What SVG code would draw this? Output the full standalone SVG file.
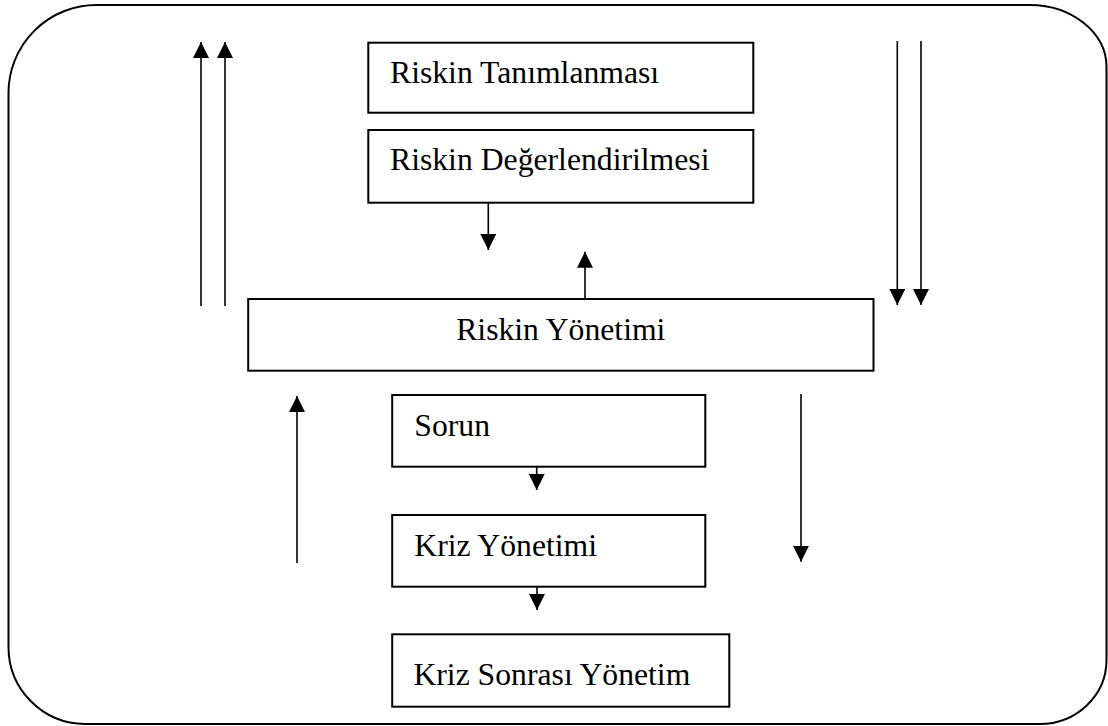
<svg xmlns="http://www.w3.org/2000/svg" width="1108" height="726" viewBox="0 0 1108 726">
<defs>
<marker id="ah" viewBox="0 0 16 16" refX="16" refY="8" markerWidth="16" markerHeight="16" markerUnits="userSpaceOnUse" orient="auto">
<path d="M0,0 L16,8 L0,16 Z" fill="#000"/>
</marker>
<style>
.box{fill:#fff;stroke:#000;stroke-width:2}
.lbl{font-family:"Liberation Serif","Times New Roman",serif;font-size:31.7px;fill:#000}
.con{stroke:#000;stroke-width:1.6;fill:none;marker-end:url(#ah)}
</style>
</defs>
<rect width="1108" height="726" fill="#fff"/>
<path id="frame" d="M97,5 H1030 A77,62 0 0 1 1106.5,67 V660 A67,64 0 0 1 1039,724 H85 A77,77 0 0 1 8.5,647 V93 A88,88 0 0 1 97,5 Z" fill="none" stroke="#000" stroke-width="2"/>
<g id="n1"><rect class="box" x="368.3" y="42.7" width="385" height="70"/><text class="lbl" x="390" y="82.7">Riskin Tanımlanması</text></g>
<g id="n2"><rect class="box" x="368.3" y="130" width="385" height="72.7"/><text class="lbl" x="390" y="170">Riskin Değerlendirilmesi</text></g>
<g id="n3"><rect class="box" x="248.2" y="299" width="625.3" height="71.7"/><text class="lbl" x="560.8" y="340" text-anchor="middle">Riskin Yönetimi</text></g>
<g id="n4"><rect class="box" x="392.2" y="395" width="313.1" height="71.7"/><text class="lbl" x="414.3" y="435.7">Sorun</text></g>
<g id="n5"><rect class="box" x="392.2" y="515" width="313.1" height="71.7"/><text class="lbl" x="414.3" y="555.7">Kriz Yönetimi</text></g>
<g id="n6"><rect class="box" x="392.2" y="634.3" width="337.1" height="72.4"/><text class="lbl" x="413.4" y="685">Kriz Sonrası Yönetim</text></g>
<g id="connectors">
<line class="con" x1="201" y1="306" x2="201" y2="42"/>
<line class="con" x1="225" y1="306" x2="225" y2="42"/>
<line class="con" x1="897.3" y1="41" x2="897.3" y2="305"/>
<line class="con" x1="921" y1="41" x2="921" y2="305"/>
<line class="con" x1="488.3" y1="202.7" x2="488.3" y2="250"/>
<line class="con" x1="585" y1="298" x2="585" y2="251.7"/>
<line class="con" x1="297" y1="563" x2="297" y2="396"/>
<line class="con" x1="801" y1="394" x2="801" y2="561.7"/>
<line class="con" x1="536.7" y1="466.7" x2="536.7" y2="490"/>
<line class="con" x1="537" y1="586.7" x2="537" y2="610"/>
</g>
</svg>
